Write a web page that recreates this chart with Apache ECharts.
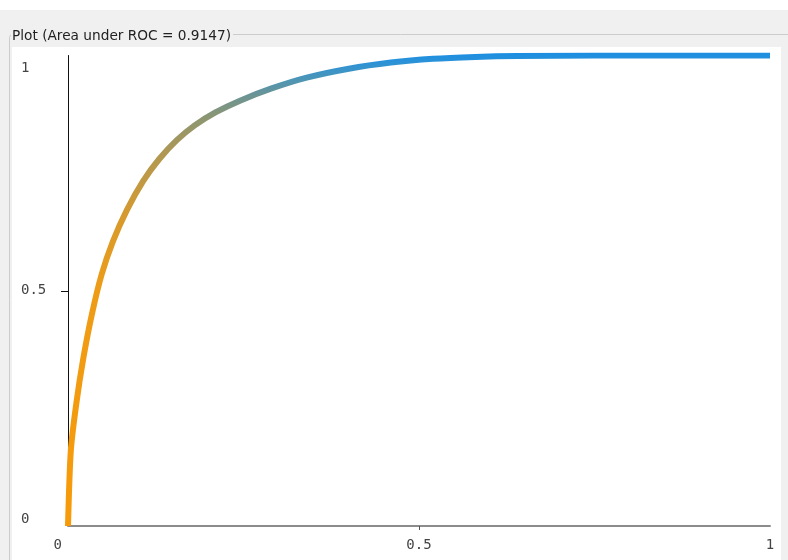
<!DOCTYPE html>
<html>
<head>
<meta charset="utf-8">
<script src="https://cdn.jsdelivr.net/npm/echarts@6/dist/echarts.min.js"></script>
<style>
html,body{margin:0;padding:0;background:#f0f0f0;}
#chart{width:788px;height:560px;}
</style>
</head>
<body>
<div id="chart"></div>
<script>
// ROC curve data (false positive rate, true positive rate)
const fpr = [0, 0.004, 0.012, 0.022, 0.034, 0.048, 0.064, 0.084, 0.107, 0.130, 0.155, 0.180, 0.210, 0.245, 0.290, 0.340, 0.400, 0.460, 0.520, 0.580, 0.640, 0.750, 0.875, 1];
const tpr = [0, 0.160, 0.262, 0.358, 0.450, 0.535, 0.605, 0.672, 0.733, 0.780, 0.820, 0.851, 0.879, 0.904, 0.930, 0.953, 0.972, 0.985, 0.993, 0.997, 0.999, 1, 1, 1];
const titleText = 'Plot (Area under ROC = 0.9147)';
const tickValues = [0, 0.5, 1];
const tickLabels = ['0', '0.5', '1'];

const chart = echarts.init(document.getElementById('chart'), null, {renderer: 'canvas'});
const monoFont = '"DejaVu Sans Mono", monospace';

const option = {
  animation: false,
  backgroundColor: '#f0f0f0',
  title: {
    text: titleText,
    left: 11,
    top: 29,
    padding: [0, 2, 0, 1],
    backgroundColor: '#f0f0f0',
    textStyle: {fontSize: 13.7, fontWeight: 'normal', color: '#222', fontFamily: '"DejaVu Sans", sans-serif'}
  },
  graphic: [
    {type: 'rect', z: -10, shape: {x: 0, y: 0, width: 788, height: 10}, style: {fill: '#ffffff'}},
    {type: 'rect', z: -9, shape: {x: 9.5, y: 34.5, width: 800, height: 560, r: 3}, style: {fill: 'none', stroke: '#cccccc', lineWidth: 1}},
    {type: 'rect', z: -8, shape: {x: 12, y: 47, width: 769, height: 520}, style: {fill: '#ffffff'}}
  ],
  grid: {left: 68, right: 18, top: 55.5, bottom: 34, containLabel: false},
  xAxis: {
    type: 'value', min: 0, max: 1, interval: 0.5,
    splitLine: {show: false},
    axisLine: {show: true, lineStyle: {color: '#8c8c8c', width: 2}},
    axisTick: {show: true, customValues: [0.5], length: 4, inside: false, lineStyle: {color: '#555'}},
    axisLabel: {
      customValues: tickValues,
      margin: 12,
      fontSize: 14, color: '#444', fontFamily: monoFont,
      formatter: function (v) { const i = tickValues.indexOf(v); return i === 0 ? '{z|' + tickLabels[i] + '}' : tickLabels[i]; },
      rich: {z: {fontSize: 14, color: '#444', fontFamily: monoFont, padding: [0, 6, 0, 0]}},
      alignMinLabel: 'right', alignMaxLabel: 'center'
    }
  },
  yAxis: {
    type: 'value', min: 0, max: 1, interval: 0.5,
    splitLine: {show: false},
    axisLine: {show: true, lineStyle: {color: '#111', width: 1}},
    axisTick: {show: true, customValues: [0.5], length: 7, lineStyle: {color: '#111'}},
    axisLabel: {
      customValues: tickValues,
      align: 'left', margin: 47,
      fontSize: 14, color: '#444', fontFamily: monoFont,
      formatter: function (v) { const i = tickValues.indexOf(v); return i === 2 ? '{t|' + tickLabels[i] + '}' : tickLabels[i]; },
      rich: {t: {fontSize: 14, color: '#444', fontFamily: monoFont, padding: [6, 0, 0, 0]}},
      verticalAlignMinLabel: 'bottom', verticalAlignMaxLabel: 'top'
    }
  },
  series: [{
    type: 'line',
    data: fpr.map((x, i) => [x, tpr[i]]),
    showSymbol: false,
    smooth: 0.25,
    lineStyle: {
      width: 6,
      cap: 'butt',
      color: {
        type: 'linear', x: 0, y: 0, x2: 0, y2: 1,
        colorStops: [
          {offset: 0, color: '#1a8ee2'},
          {offset: 0.02, color: '#2b92d8'},
          {offset: 0.05, color: '#4695bc'},
          {offset: 0.09, color: '#6b9494'},
          {offset: 0.14, color: '#8e9670'},
          {offset: 0.22, color: '#b39850'},
          {offset: 0.35, color: '#d89a2c'},
          {offset: 0.5, color: '#ee9c16'},
          {offset: 1, color: '#f89a08'}
        ]
      }
    }
  }]
};
chart.setOption(option);
</script>
</body>
</html>
